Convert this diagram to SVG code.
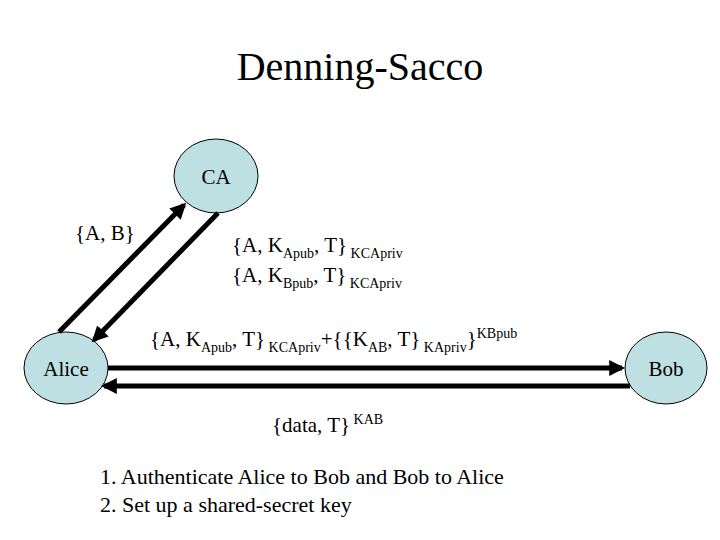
<svg xmlns="http://www.w3.org/2000/svg" width="720" height="540" viewBox="0 0 720 540">
<style>
text{font-family:"Liberation Serif",serif;fill:#000}
.n{fill:#bfe0e3;stroke:#000;stroke-width:1}
.c{stroke:#000;stroke-width:5;fill:none;marker-end:url(#ah)}
.l{font-size:21px}
.s{font-size:14px}
</style>
<defs><marker id="ah" viewBox="0 0 10 10" refX="8" refY="5" markerWidth="3.2" markerHeight="3.2" orient="auto" markerUnits="strokeWidth"><path d="M0,0L10,5L0,10z" fill="#000"/></marker></defs>
<rect width="720" height="540" fill="#fff"/>
<text x="360" y="80" font-size="40" text-anchor="middle">Denning-Sacco</text>
<g id="CA"><ellipse class="n" cx="216" cy="176" rx="42" ry="37"/><text class="l" x="216" y="184" text-anchor="middle">CA</text></g>
<g id="Alice"><ellipse class="n" cx="66" cy="368" rx="42" ry="36"/><text class="l" x="66" y="376" text-anchor="middle">Alice</text></g>
<g id="Bob"><ellipse class="n" cx="666" cy="368" rx="41" ry="36"/><text class="l" x="666" y="376" text-anchor="middle">Bob</text></g>
<g id="connectors">
<line class="c" x1="59" y1="332" x2="184" y2="205"/>
<line class="c" x1="218" y1="213" x2="94" y2="340"/>
<line class="c" x1="108" y1="368" x2="622" y2="368"/>
<line class="c" x1="630" y1="386" x2="104" y2="386"/>
</g>
<text class="l" x="75" y="240">{A, B}</text>
<text class="l" x="232" y="252">{A, K<tspan class="s" dy="6">Apub</tspan><tspan dy="-6">, T}</tspan><tspan class="s" dy="6"> KCApriv</tspan></text>
<text class="l" x="232" y="282">{A, K<tspan class="s" dy="6">Bpub</tspan><tspan dy="-6">, T}</tspan><tspan class="s" dy="6"> KCApriv</tspan></text>
<text class="l" x="150" y="346">{A, K<tspan class="s" dy="6">Apub</tspan><tspan dy="-6">, T}</tspan><tspan class="s" dy="6"> KCApriv</tspan><tspan dy="-6">+{{K</tspan><tspan class="s" dy="6">AB</tspan><tspan dy="-6">, T}</tspan><tspan class="s" dy="6"> KApriv</tspan><tspan dy="-6">}</tspan><tspan class="s" dy="-8">KBpub</tspan></text>
<text class="l" x="272" y="432">{data, T}<tspan class="s" dy="-8"> KAB</tspan></text>
<text x="100" y="484" font-size="22">1.  Authenticate Alice to Bob and Bob to Alice</text>
<text x="100" y="512" font-size="22">2.  Set up a shared-secret key</text>
</svg>
